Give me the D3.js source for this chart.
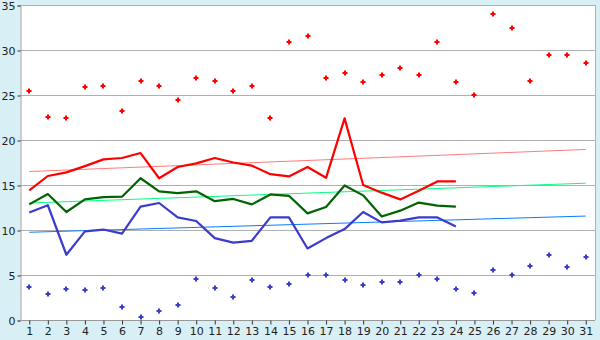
<!DOCTYPE html>
<html>
<head>
<meta charset="utf-8">
<script src="https://cdn.jsdelivr.net/npm/d3@7"></script>
<style>
  html, body { margin: 0; padding: 0; background: #d9eff6; }
  svg { display: block; }
</style>
</head>
<body>
<svg id="chart" width="600" height="340"></svg>
<script>
// Days of the month
const days = d3.range(1, 32).map(String);
const yTicks = [0, 5, 10, 15, 20, 25, 30, 35];

// Daily extremes (scatter points)
const maxPoints = [25.5, 22.6, 22.4, 25.9, 26.0, 23.2, 26.6, 26.0, 24.4, 26.9,
                   26.6, 25.4, 26.0, 22.4, 30.9, 31.6, 26.9, 27.4, 26.4, 27.2,
                   28.0, 27.2, 30.9, 26.4, 25.0, 34.0, 32.4, 26.6, 29.4, 29.4, 28.6];
const minPoints = [3.7, 2.9, 3.4, 3.3, 3.6, 1.4, 0.3, 1.0, 1.7, 4.6,
                   3.6, 2.6, 4.5, 3.7, 4.0, 5.0, 5.0, 4.4, 3.9, 4.2,
                   4.2, 5.0, 4.6, 3.4, 3.0, 5.6, 5.0, 6.0, 7.2, 5.9, 7.0];

// Daily series (days 1–24)
const highLine = [14.4, 16.0, 16.4, 17.1, 17.85, 18.0, 18.55, 15.75, 17.0, 17.4,
                  18.0, 17.5, 17.15, 16.2, 15.95, 17.0, 15.8, 22.4, 15.0, 14.15,
                  13.4, 14.35, 15.4, 15.4];
const meanLine = [12.85, 14.0, 12.0, 13.4, 13.65, 13.7, 15.75, 14.3, 14.1, 14.3,
                  13.2, 13.45, 12.85, 13.95, 13.8, 11.85, 12.55, 14.95, 13.85, 11.5,
                  12.15, 13.05, 12.7, 12.6];
const lowLine  = [11.95, 12.75, 7.25, 9.85, 10.05, 9.6, 12.6, 13.0, 11.4, 11.0,
                  9.1, 8.6, 8.8, 11.4, 11.4, 7.95, 9.1, 10.1, 12.0, 10.85,
                  11.05, 11.4, 11.4, 10.4];

// Trend lines: value at day 1 and at day 31
const highTrend = [16.5, 18.95];
const meanTrend = [13.0, 15.2];
const lowTrend  = [9.75, 11.55];

const svg = d3.select("#chart");
const plot = { left: 20, right: 595, top: 5, bottom: 320 };

const x = d3.scalePoint().domain(days).range([plot.left, plot.right]).padding(0.5);
const y = d3.scaleLinear().domain([0, 35]).range([plot.bottom, plot.top]);

// Plot area
svg.append("rect")
  .attr("x", plot.left).attr("y", plot.top)
  .attr("width", plot.right - plot.left).attr("height", plot.bottom - plot.top)
  .attr("fill", "#ffffff");

// Horizontal grid
svg.append("g")
  .selectAll("line")
  .data(yTicks.filter(d => d > 0))
  .join("line")
  .attr("x1", plot.left).attr("x2", plot.right)
  .attr("y1", d => y(d) + 0.5).attr("y2", d => y(d) + 0.5)
  .attr("stroke", "#b0b0b0").attr("stroke-width", 1);

// Right border
svg.append("line")
  .attr("x1", plot.right + 0.5).attr("x2", plot.right + 0.5)
  .attr("y1", plot.top).attr("y2", plot.bottom)
  .attr("stroke", "#b0b0b0");

// Axes
const yAxis = d3.axisLeft(y).tickValues(yTicks).tickSize(3).tickPadding(2);
const xAxis = d3.axisBottom(x).tickSize(4).tickPadding(3);

const gy = svg.append("g").attr("transform", `translate(${plot.left + 0.5},0.5)`).call(yAxis);
const gx = svg.append("g").attr("transform", `translate(0,${plot.bottom + 0.5})`).call(xAxis);

[gx, gy].forEach(g => {
  g.selectAll("path.domain").attr("stroke", "#999999");
  g.selectAll(".tick line").attr("stroke", "#333333");
  g.selectAll("text")
    .attr("fill", "#222222")
    .style("font-family", "'DejaVu Sans', Verdana, sans-serif")
    .style("font-size", "11px");
});
gx.select("path.domain").attr("d", `M${plot.left},0H${plot.right}`);

// Trend lines
function trend(vals, color) {
  svg.append("line")
    .attr("x1", x(days[0])).attr("x2", x(days[days.length - 1]))
    .attr("y1", y(vals[0])).attr("y2", y(vals[1]))
    .attr("stroke", color).attr("stroke-width", 1);
}
trend(highTrend, "#ff7a7a");
trend(meanTrend, "#00ff7f");
trend(lowTrend, "#0a7cff");

// Daily series lines
const line = d3.line()
  .x((d, i) => x(days[i]))
  .y(d => y(d));

function series(vals, color) {
  svg.append("path")
    .datum(vals)
    .attr("d", line)
    .attr("fill", "none")
    .attr("stroke", color)
    .attr("stroke-width", 2.2)
    .attr("stroke-linejoin", "round");
}
series(lowLine, "#3b3bcc");
series(meanLine, "#006400");
series(highLine, "#ff0000");

// Scatter markers (small pixel diamonds)
const marker = "M-1,-2.5H1V-1H2.5V1H1V2.5H-1V1H-2.5V-1H-1Z";
function points(vals, color) {
  svg.append("g")
    .selectAll("path")
    .data(vals)
    .join("path")
    .attr("d", marker)
    .attr("transform", (d, i) => `translate(${Math.round(x(days[i]))},${Math.round(y(d))})`)
    .attr("fill", color);
}
points(maxPoints, "#ff0000");
points(minPoints, "#3b3bcc");
</script>
</body>
</html>
